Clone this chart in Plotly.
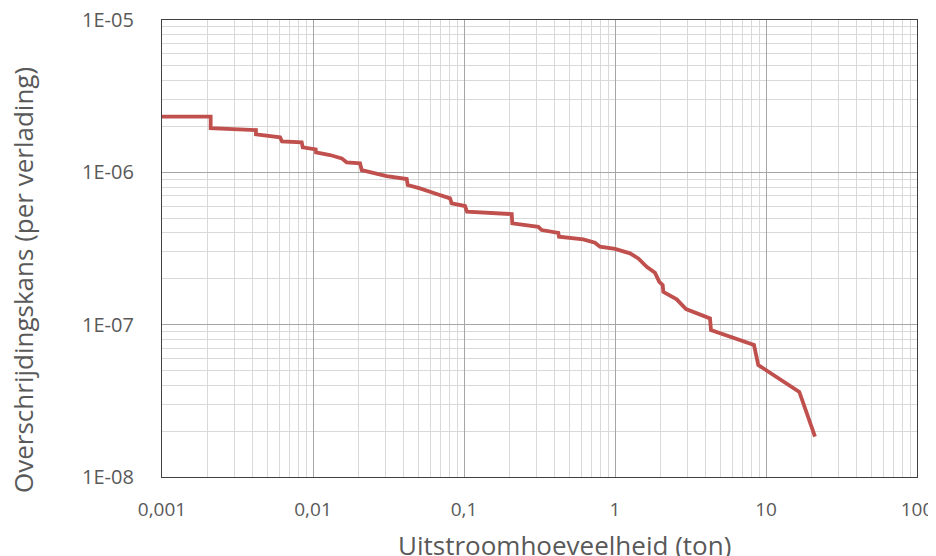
import plotly.graph_objects as go

# Exceedance curve: outflow quantity (ton) vs exceedance probability (per loading)
quantity_ton = [0.001, 0.0021, 0.0021, 0.00419, 0.00419, 0.00605, 0.00623, 0.00842, 0.00855,
                0.01042, 0.01047, 0.01296, 0.0155, 0.0167, 0.02048, 0.02102, 0.03076, 0.04175,
                0.04237, 0.0511, 0.0659, 0.0808, 0.0829, 0.1015, 0.1047, 0.207, 0.2089, 0.3105,
                0.327, 0.421, 0.4257, 0.6168, 0.737, 0.7955, 1.0, 1.257, 1.427, 1.622, 1.840,
                1.965, 2.07, 2.089, 2.563, 2.953, 4.257, 4.323, 8.328, 8.89, 16.62, 21.11]
probability = [2.32e-6, 2.32e-6, 1.95e-6, 1.895e-6, 1.777e-6, 1.698e-6, 1.598e-6, 1.574e-6, 1.459e-6,
               1.416e-6, 1.353e-6, 1.299e-6, 1.235e-6, 1.163e-6, 1.146e-6, 1.035e-6, 9.456e-7, 9.04e-7,
               8.25e-7, 7.85e-7, 7.20e-7, 6.75e-7, 6.26e-7, 6.01e-7, 5.51e-7, 5.32e-7, 4.62e-7, 4.39e-7,
               4.18e-7, 4.01e-7, 3.78e-7, 3.63e-7, 3.45e-7, 3.25e-7, 3.14e-7, 2.94e-7, 2.72e-7, 2.40e-7, 2.19e-7,
               1.91e-7, 1.82e-7, 1.64e-7, 1.466e-7, 1.266e-7, 1.100e-7, 9.22e-8, 7.35e-8, 5.43e-8, 3.62e-8, 1.84e-8]

x_tickvals = [0.001, 0.01, 0.1, 1, 10, 100]
x_ticktext = ["0,001", "0,01", "0,1", "1", "10", "100"]
y_tickvals = [1e-8, 1e-7, 1e-6, 1e-5]
y_ticktext = ["1E-08", "1E-07", "1E-06", "1E-05"]
x_title = "Uitstroomhoeveelheid (ton)"
y_title = "Overschrijdingskans (per verlading)"

FONT = "Open Sans"
TXT = "#595959"

fig = go.Figure()
fig.add_trace(go.Scatter(x=quantity_ton, y=probability, mode="lines",
                         line=dict(color="#C0504D", width=3.8), showlegend=False))

fig.update_layout(
    width=928, height=548,
    margin=dict(l=154, r=19, t=12, b=79, autoexpand=False),
    paper_bgcolor="white", plot_bgcolor="white",
    font=dict(family=FONT, color=TXT, size=15),
    annotations=[
        dict(text=x_title, xref="paper", yref="paper", x=0.5337, y=-0.149,
             xanchor="center", yanchor="middle", showarrow=False,
             font=dict(size=26, color=TXT, family=FONT)),
        dict(text=y_title, xref="paper", yref="paper", x=-0.1842, y=0.431,
             xanchor="center", yanchor="middle", showarrow=False, textangle=-90,
             font=dict(size=26, color=TXT, family=FONT)),
    ],
)
fig.update_xaxes(
    type="log", range=[-3, 2], automargin=False,
    tickvals=x_tickvals, ticktext=x_ticktext,
    showgrid=True, gridcolor="#a6a6a6", gridwidth=1,
    minor=dict(showgrid=True, gridcolor="#d9d9d9", gridwidth=1, dtick="D1"),
    showline=True, linecolor="#404040", linewidth=1.3, mirror=True,
    ticks="", ticklabelstandoff=15, ticklabeloverflow="allow",
    tickfont=dict(size=19, color=TXT, family=FONT),
    zeroline=False,
)
fig.update_yaxes(
    type="log", range=[-8, -5], automargin=False,
    tickvals=y_tickvals, ticktext=y_ticktext,
    showgrid=True, gridcolor="#a6a6a6", gridwidth=1,
    minor=dict(showgrid=True, gridcolor="#d9d9d9", gridwidth=1, dtick="D1"),
    showline=True, linecolor="#404040", linewidth=1.3, mirror=True,
    ticks="", ticklabelstandoff=23, ticklabeloverflow="allow",
    tickfont=dict(size=20, color=TXT, family=FONT),
    zeroline=False,
)

fig.write_html("out.html")
